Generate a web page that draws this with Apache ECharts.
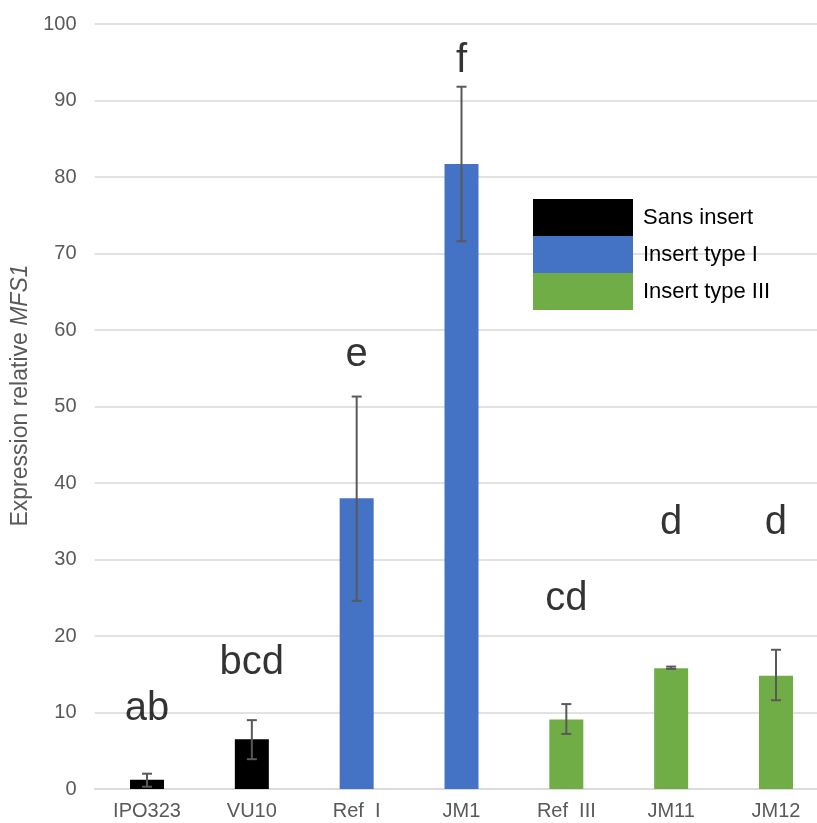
<!DOCTYPE html>
<html>
<head>
<meta charset="utf-8">
<script src="https://cdn.jsdelivr.net/npm/echarts@6/dist/echarts.min.js"></script>
<style>
  html, body { margin: 0; padding: 0; background: #fff; overflow: hidden; }
  #chart { width: 840px; height: 823px; }
</style>
</head>
<body>
<div id="chart"></div>
<script>
// categories and values
const categories = ['IPO323', 'VU10', 'Ref  I', 'JM1', 'Ref  III', 'JM11', 'JM12'];
const groups = ['Sans insert', 'Insert type I', 'Insert type III'];
const groupOf = [0, 0, 1, 1, 2, 2, 2];
const means = [1.2, 6.5, 38, 81.7, 9.1, 15.8, 14.8];
const errLow = [0.3, 3.9, 24.6, 71.6, 7.2, 15.7, 11.6];
const errHigh = [2.0, 9.0, 51.3, 91.8, 11.1, 16.0, 18.2];
const letters = ['ab', 'bcd', 'e', 'f', 'cd', 'd', 'd'];
const letterY = [10.4, 16.5, 56.8, 95.2, 24.8, 34.8, 34.8];
const yTicks = [0, 10, 20, 30, 40, 50, 60, 70, 80, 90, 100];

const colors = ['#000000', '#4472c4', '#70ad47'];
const font = 'Liberation Sans, Arial, sans-serif';

// chart div is a bit wider than the window: the plot runs past the right edge
const chart = echarts.init(document.getElementById('chart'));

const barSeries = groups.map(function (g, gi) {
    return {
        name: g,
        type: 'bar',
        stack: 'all',
        barWidth: 34,
        itemStyle: { color: colors[gi] },
        data: means.map(function (v, i) { return groupOf[i] === gi ? v : '-'; })
    };
});

const option = {
    animation: false,
    grid: { left: 94.6, top: 24, width: 733.8, bottom: 34, containLabel: false, outerBoundsMode: 'none' },
    legend: {
        orient: 'vertical',
        left: 533,
        top: 199,
        padding: 0,
        itemWidth: 100,
        itemHeight: 37,
        itemGap: 0,
        icon: 'rect',
        textStyle: { fontFamily: font, fontSize: 22, color: '#000', padding: [0, 0, 0, 5] },
        data: groups
    },
    xAxis: {
        type: 'category',
        data: categories,
        axisTick: { show: false },
        axisLine: { lineStyle: { color: '#d9d9d9', width: 1.5 } },
        axisLabel: { fontFamily: font, fontSize: 20, color: '#595959', margin: 12 }
    },
    yAxis: {
        type: 'value',
        min: yTicks[0],
        max: yTicks[yTicks.length - 1],
        interval: 10,
        name: '{n|Expression relative }{i|MFS1}',
        nameLocation: 'middle',
        nameGap: 61,
        nameTextStyle: {
            padding: [0, 0, 0, 22],
            rich: {
                n: { fontFamily: font, fontSize: 23, color: '#595959' },
                i: { fontFamily: font, fontSize: 23, color: '#595959', fontStyle: 'italic' }
            }
        },
        splitLine: { lineStyle: { color: '#d9d9d9', width: 1.5 } },
        axisLabel: { fontFamily: font, fontSize: 20, color: '#595959', margin: 18 }
    },
    series: barSeries.concat([
        {
            type: 'custom',
            name: 'err',
            z: 10,
            data: categories.map(function (c, i) { return [i, errLow[i], errHigh[i]]; }),
            renderItem: function (params, api) {
                const lo = api.coord([api.value(0), api.value(1)]);
                const hi = api.coord([api.value(0), api.value(2)]);
                const hw = 5;
                const st = { stroke: '#595959', lineWidth: 2 };
                return {
                    type: 'group',
                    children: [
                        { type: 'line', shape: { x1: lo[0], y1: lo[1], x2: hi[0], y2: hi[1] }, style: st },
                        { type: 'line', shape: { x1: lo[0] - hw, y1: lo[1], x2: lo[0] + hw, y2: lo[1] }, style: st },
                        { type: 'line', shape: { x1: hi[0] - hw, y1: hi[1], x2: hi[0] + hw, y2: hi[1] }, style: st }
                    ]
                };
            }
        },
        {
            type: 'scatter',
            name: 'letters',
            symbolSize: 0,
            z: 11,
            data: categories.map(function (c, i) { return [i, letterY[i]]; }),
            label: {
                show: true,
                position: 'inside',
                fontFamily: font,
                fontSize: 40,
                color: '#000',
                formatter: function (p) { return letters[p.dataIndex]; }
            }
        }
    ])
};

chart.setOption(option);
</script>
</body>
</html>
